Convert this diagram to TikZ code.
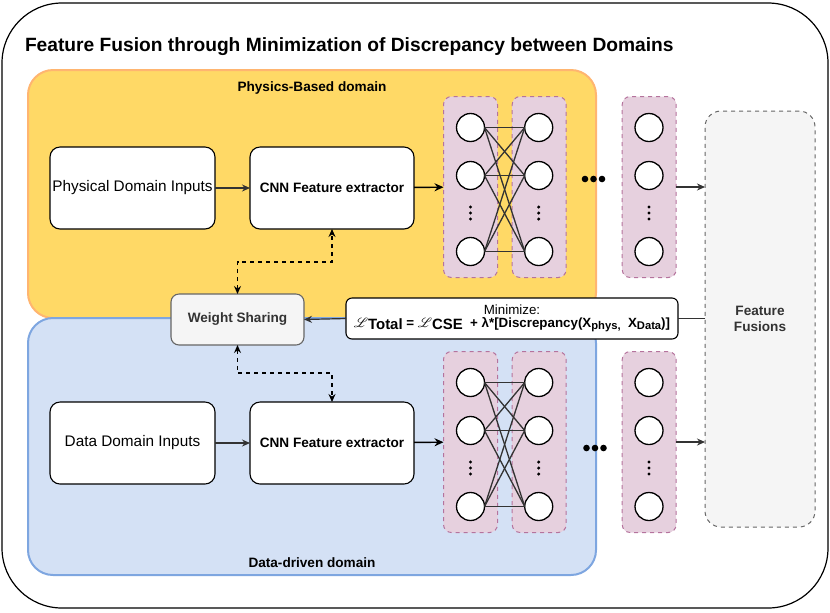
\documentclass[tikz,border=0pt]{standalone}
\usepackage{fontspec}
\usepackage{mathrsfs}
\setmainfont{Liberation Sans}
\usetikzlibrary{arrows.meta,calc}
\newdimen\pxu \pxu=0.75pt
\definecolor{physfill}{HTML}{FFD966}
\definecolor{physline}{HTML}{FFB570}
\definecolor{datafill}{HTML}{D4E1F5}
\definecolor{dataline}{HTML}{7EA6E0}
\definecolor{layfill}{HTML}{E6D0DE}
\definecolor{layline}{HTML}{B5739D}
\definecolor{grayfill}{HTML}{F5F5F5}
\definecolor{grayline}{HTML}{666666}
\definecolor{dark}{HTML}{333333}
\tikzset{
  base/.style={inner sep=0pt, outer sep=0pt},
  boldlab/.style={font=\bfseries\fontsize{10.2pt}{12pt}\selectfont},
  domainbox/.style={base, rounded corners=25\pxu, line width=2\pxu},
  inbox/.style={base, draw=black, fill=white, rounded corners=10\pxu, line width=1.1\pxu,
     minimum width=165\pxu, minimum height=82\pxu, font=\fontsize{11.5pt}{13pt}\selectfont},
  layer/.style={base, draw=layline, fill=layfill, dashed, rounded corners=8\pxu, line width=1\pxu,
     minimum width=54\pxu, minimum height=181\pxu},
  neuron/.style={base, circle, draw=black, fill=white, line width=1.3\pxu, minimum size=28\pxu},
  conn/.style={draw=dark, line width=1.2\pxu, -{Stealth[length=6pt,width=5.25pt]}},
  blackconn/.style={draw=black, line width=1.4\pxu, -{Stealth[length=6.75pt,width=6pt]}},
  dasharrow/.style={draw=black, line width=1.2\pxu, dashed, {Stealth[length=6pt,width=5.25pt]}-{Stealth[length=6pt,width=5.25pt]}},
  wire/.style={draw=dark, line width=1.3\pxu},
}
\begin{document}
\begin{tikzpicture}[x=0.75pt, y=-0.75pt]
\useasboundingbox (0,0) rectangle (830,612);
% outer frame
\node[base, draw=black, line width=1.2\pxu, rounded corners=60\pxu, minimum width=826\pxu, minimum height=605\pxu] (outer) at (415,305.5) {};
\node[base, anchor=west, font=\bfseries\fontsize{14.4pt}{16pt}\selectfont] (title) at (25,47) {Feature Fusion through Minimization of Discrepancy between Domains};
% domains
\node[domainbox, draw=physline, fill=physfill, minimum width=568\pxu, minimum height=248\pxu] (phys) at (312,194) {};
\node[domainbox, draw=dataline, fill=datafill, minimum width=568\pxu, minimum height=257\pxu] (data) at (312,446.5) {};
\node[base, boldlab] (physlab) at (312,88) {Physics-Based domain};
\node[base, boldlab] (datalab) at (312,563) {Data-driven domain};
% input and CNN boxes
\node[inbox] (pin) at (132.5,188) {Physical Domain Inputs};
\node[inbox, minimum width=164\pxu, boldlab] (cnn1) at (332,188) {CNN Feature extractor};
\node[inbox] (din) at (132.5,443) {Data Domain Inputs};
\node[inbox, minimum width=164\pxu, boldlab] (cnn2) at (332,443) {CNN Feature extractor};
% layers
\foreach \r/\yo in {a/0,b/255}{
  \node[layer] (L1\r) at (470.5,187+\yo) {};
  \node[layer] (L2\r) at (539.2,187+\yo) {};
  \node[layer] (L3\r) at (649.2,187+\yo) {};
  \foreach \c/\xx in {1/470.5,2/538.7,3/649}{
    \node[neuron] (n\c\r1) at (\xx,127.5+\yo) {};
    \node[neuron] (n\c\r2) at (\xx,175.5+\yo) {};
    \node[neuron] (n\c\r3) at (\xx,251.5+\yo) {};
    \foreach \dy in {207,213,219}{
      \fill (\xx,\dy+\yo) circle[radius=1.7];
    }
  }
  \foreach \i in {1,2,3}{
    \foreach \j in {1,2,3}{
      \draw[wire] (n1\r\i.east) -- (n2\r\j.west);
    }
  }
}
\foreach \dx in {585,593.5,602}{
  \fill (\dx,179) circle[radius=3.3];
  \fill (\dx+1.5,448) circle[radius=3.3];
}
% feature fusions
\node[base, draw=grayline, fill=grayfill, dashed, rounded corners=16\pxu, line width=1\pxu,
   minimum width=110\pxu, minimum height=416\pxu, align=center, text=dark, boldlab] (ff) at (760,319) {Feature\\Fusions};
% weight sharing
\node[base, draw=grayline, fill=grayfill, rounded corners=8\pxu, line width=1.1\pxu,
   minimum width=133\pxu, minimum height=51\pxu, text=dark, boldlab] (ws) at (237.5,319.5) {Weight Sharing};
% minimize
\node[base, draw=black, fill=white, rounded corners=6\pxu, line width=1.1\pxu,
   minimum width=332\pxu, minimum height=41\pxu, align=center,
   font=\fontsize{10pt}{11pt}\selectfont] (mini) at (512,318.5)
   {Minimize:\\[-1.5pt]
    \bfseries $\mathscr{L}$\raisebox{-0.35ex}{\fontsize{11.2pt}{11pt}\selectfont Total} = $\mathscr{L}$\raisebox{-0.35ex}{\fontsize{11.2pt}{11pt}\selectfont CSE}\ \ + λ*[Discrepancy(X\raisebox{-0.4ex}{\fontsize{8.4pt}{9pt}\selectfont phys,}\ \ X\raisebox{-0.4ex}{\fontsize{8.4pt}{9pt}\selectfont Data})]};
% connectors
\draw[conn] (pin) -- (cnn1);
\draw[conn] (din) -- (cnn2);
\draw[blackconn] (cnn1) -- (L1a);
\draw[blackconn] (cnn2) -- (L1b);
\draw[conn] (L3a.east) -- (L3a.east -| ff.west);
\draw[conn] (L3b.east) -- (L3b.east -| ff.west);
\draw[wire, line width=1.2\pxu] (ff.west |- mini.east) -- (mini.east);
\draw[conn] (mini.west) -- (ws.east);
\coordinate (k1) at (300,262);
\coordinate (k2) at (300,373);
\draw[dasharrow] (ws.north) |- (k1) -| (cnn1.south);
\draw[dasharrow] (ws.south) |- (k2) -| (cnn2.north);
\end{tikzpicture}
\end{document}
